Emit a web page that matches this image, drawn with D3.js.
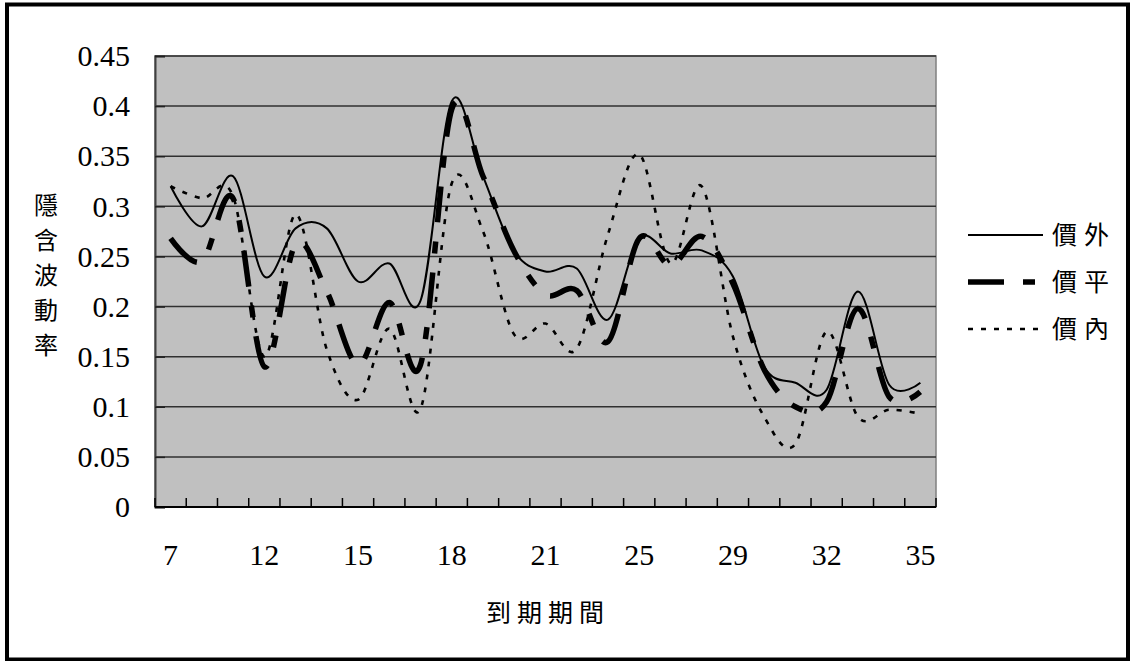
<!DOCTYPE html>
<html>
<head>
<meta charset="utf-8">
<script src="https://cdn.jsdelivr.net/npm/d3@7/dist/d3.min.js"></script>
<style>
  html, body { margin: 0; padding: 0; background: #fff; }
  svg { display: block; }
  .num { font-family: "Liberation Serif", "Times New Roman", serif; font-size: 30px; fill: #000; }
  .cjk { font-family: "Noto Sans CJK TC", "Noto Sans CJK SC", sans-serif; fill: #000; }
</style>
</head>
<body>
<svg id="chart" width="1132" height="661"></svg>
<script>
// Time to maturity (days); only every third category carries a label on the axis.
const categories = ["7","10","11","12","13","14","15","16","17","18","19","20","21",
                    "22","24","25","26","28","29","30","31","32","33","34","35"];
const tickLabels = ["7","12","15","18","21","25","29","32","35"];
const yTicks = [0, 0.05, 0.1, 0.15, 0.2, 0.25, 0.3, 0.35, 0.4, 0.45];

// Implied volatility by moneyness
const seriesNames = ["價外", "價平", "價內"];
const otm = [0.32, 0.28, 0.33, 0.23, 0.278, 0.278, 0.225, 0.243, 0.206, 0.405,
             0.33, 0.255, 0.235, 0.238, 0.187, 0.268, 0.253, 0.256, 0.23, 0.14,
             0.124, 0.117, 0.215, 0.122, 0.124];
const atm = [0.268, 0.245, 0.308, 0.14, 0.262, 0.215, 0.142, 0.204, 0.142, 0.397,
             0.33, 0.255, 0.212, 0.216, 0.165, 0.268, 0.241, 0.27, 0.223, 0.137,
             0.1, 0.105, 0.198, 0.11, 0.115];
const itm = [0.32, 0.308, 0.31, 0.15, 0.292, 0.157, 0.107, 0.178, 0.098, 0.323,
             0.275, 0.172, 0.183, 0.158, 0.272, 0.352, 0.243, 0.32, 0.17, 0.09,
             0.063, 0.175, 0.09, 0.097, 0.093];

const svg = d3.select("#chart");
const plot = { left: 155, right: 936, top: 56, bottom: 507 };

const x = d3.scaleBand().domain(categories).range([plot.left, plot.right]).paddingInner(0).paddingOuter(0);
const y = d3.scaleLinear().domain([0, 0.45]).range([plot.bottom, plot.top]);
const cx = c => x(c) + x.bandwidth() / 2;

// outer frame
svg.append("rect").attr("x", 7).attr("y", 4.5).attr("width", 1121).attr("height", 655)
  .attr("fill", "#fff").attr("stroke", "#000").attr("stroke-width", 4);

// plot area
svg.append("rect").attr("x", plot.left).attr("y", plot.top)
  .attr("width", plot.right - plot.left).attr("height", plot.bottom - plot.top)
  .attr("fill", "#c0c0c0").attr("stroke", "#808080").attr("stroke-width", 1.5);

// horizontal gridlines
svg.append("g").selectAll("line").data(yTicks.filter(d => d > 0)).join("line")
  .attr("x1", plot.left).attr("x2", plot.right)
  .attr("y1", d => y(d)).attr("y2", d => y(d))
  .attr("stroke", "#303030").attr("stroke-width", 1.5);

// y axis (ticks point inward, labels drawn separately)
const yAxis = svg.append("g").attr("transform", `translate(${plot.left},0)`)
  .call(d3.axisRight(y).tickValues(yTicks).tickSize(10).tickFormat(""));
yAxis.select(".domain").attr("stroke", "#404040").attr("stroke-width", 2);
yAxis.selectAll(".tick line").attr("stroke", "#202020").attr("stroke-width", 1.5);

svg.append("g").selectAll("text").data(yTicks).join("text")
  .attr("class", "num").attr("x", 130).attr("y", d => y(d)).attr("dy", "0.34em")
  .attr("text-anchor", "end").text(d => d3.format("")(d));

// x axis: tick marks between categories, pointing inward
const bounds = categories.map(c => x(c)).concat([plot.right]);
svg.append("g").selectAll("line").data(bounds).join("line")
  .attr("x1", d => d).attr("x2", d => d)
  .attr("y1", plot.bottom).attr("y2", plot.bottom - 9)
  .attr("stroke", "#000").attr("stroke-width", 1.5);
svg.append("line").attr("x1", plot.left).attr("x2", plot.right)
  .attr("y1", plot.bottom).attr("y2", plot.bottom)
  .attr("stroke", "#000").attr("stroke-width", 2);

svg.append("g").selectAll("text").data(tickLabels).join("text")
  .attr("class", "num").attr("x", d => cx(d)).attr("y", 565)
  .attr("text-anchor", "middle").text(d => d);

// series lines
const line = d3.line().x((d, i) => cx(categories[i])).y(d => y(d))
  .curve(d3.curveCardinal.tension(0));
const styles = [
  { data: otm, width: 2, dash: null },
  { data: atm, width: 5.5, dash: "36,19,12,19" },
  { data: itm, width: 2.6, dash: "5,8" }
];
svg.append("g").selectAll("path").data(styles).join("path")
  .attr("d", s => line(s.data))
  .attr("fill", "none").attr("stroke", "#000")
  .attr("stroke-width", s => s.width)
  .attr("stroke-dasharray", s => s.dash);

// legend
const legendY = [235, 282, 329];
const lg = svg.append("g").selectAll("g").data(styles).join("g")
  .attr("transform", (s, i) => `translate(968,${legendY[i]})`);
lg.append("line").attr("x1", 0).attr("x2", 75).attr("y1", 0).attr("y2", 0)
  .attr("stroke", "#000").attr("stroke-width", s => s.width)
  .attr("stroke-dasharray", s => s.dash);
lg.append("text").attr("class", "cjk").attr("x", 84).attr("y", 0).attr("dy", "0.36em")
  .style("font-size", "25px").style("letter-spacing", "7px")
  .text((s, i) => seriesNames[i]);

// axis titles
const yTitle = "隱含波動率";
svg.append("g").selectAll("text").data(Array.from(yTitle)).join("text")
  .attr("class", "cjk").attr("x", 46).attr("y", (d, i) => 205 + i * 35).attr("dy", "0.36em")
  .attr("text-anchor", "middle").style("font-size", "24px").text(d => d);

svg.append("text").attr("class", "cjk").attr("x", 548).attr("y", 613).attr("dy", "0.36em")
  .attr("text-anchor", "middle").style("font-size", "25px").style("letter-spacing", "6px")
  .text("到期期間");
</script>
</body>
</html>
